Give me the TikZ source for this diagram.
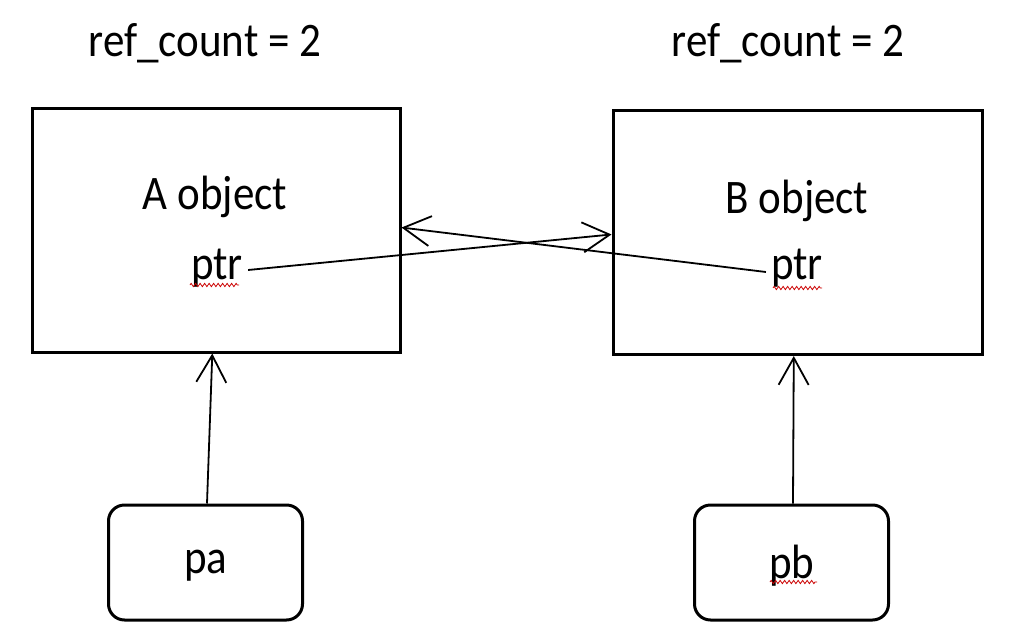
\documentclass[tikz,border=0pt]{standalone}
\usepackage{fontspec}
\setmainfont{Carlito}
\usetikzlibrary{arrows.meta,calc,decorations.pathmorphing}
\newcommand{\tallT}[1]{\scalebox{1}[1.12]{#1}}
\begin{document}
\begin{tikzpicture}[x=1pt,y=-1pt,
  objbox/.style={draw, line width=3pt, minimum width=#1, minimum height=244pt, inner sep=0pt},
  ptrbox/.style={draw, line width=3pt, rounded corners=16pt, minimum width=194pt, minimum height=115pt, inner sep=0pt},
  lbl/.style={font=\fontsize{43}{50}\selectfont, inner sep=0pt},
  conn/.style={line width=1.8pt, -{Straight Barb[length=27pt,width=30pt,line width=1.8pt]}},
  squig/.style={red!80!black, line width=0.8pt, decorate, decoration={zigzag, segment length=4.5pt, amplitude=1.6pt}}
]
\useasboundingbox[fill=white] (0,0) rectangle (1026,640);
\node[objbox=368pt] (A) at (216,230) {};
\node[objbox=369pt] (B) at (797.5,232.5) {};
\node[ptrbox] (pa) at (205.5,562.5) {};
\node[ptrbox] (pb) at (791.5,562.5) {};
\node[lbl] (rcA) at (205,43) {\tallT{ref\_count = 2}};
\node[lbl] (rcB) at (788,43) {\tallT{ref\_count = 2}};
\node[lbl] (Aobj) at (215,197) {\tallT{A object}};
\node[lbl] (Bobj) at (797,201) {\tallT{B object}};
\node[lbl] (ptrA) at (217,268) {\tallT{ptr}};
\node[lbl] (ptrB) at (797,268) {\tallT{ptr}};
\node[lbl] (pal) at (206,566) {\tallT{pa}};
\node[lbl] (pbl) at (792,566) {\tallT{pb}};
\draw[conn] ($(pa.north)+(1.5,0)$) -- ($(A.south west)!0.49!(A.south east)$);
\draw[conn] ($(pb.north)+(1.5,0)$) -- ($(B.south west)!0.49!(B.south east)$);
\draw[conn] ($(ptrA.east)+(5,2)$) -- ($(B.north west)!0.508!(B.south west)$);
\draw[conn] ($(ptrB.west)+(-5,4)$) -- ($(A.north east)!0.49!(A.south east)$);
\draw[squig] (190,285) -- (239,285);
\draw[squig] (773,288) -- (822,288);
\draw[squig] (770,582) -- (817,582);
\end{tikzpicture}
\end{document}
